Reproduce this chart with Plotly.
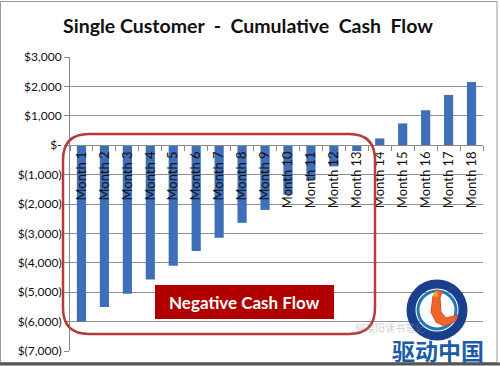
import plotly.graph_objects as go

months = ["Month 1", "Month 2", "Month 3", "Month 4", "Month 5", "Month 6",
          "Month 7", "Month 8", "Month 9", "Month 10", "Month 11", "Month 12",
          "Month 13", "Month 14", "Month 15", "Month 16", "Month 17", "Month 18"]
cash_flow = [-6000, -5500, -5050, -4570, -4100, -3600, -3150, -2640, -2200,
             -1680, -1160, -720, -200, 230, 740, 1190, 1710, 2150]
y_tickvals = [3000, 2000, 1000, 0, -1000, -2000, -3000, -4000, -5000, -6000, -7000]
y_ticktext = ["$3,000", "$2,000", "$1,000", "$-", "$(1,000)", "$(2,000)", "$(3,000)",
              "$(4,000)", "$(5,000)", "$(6,000)", "$(7,000)"]

W, H = 500, 366
L, R, T, B = 70, 483, 57, 351  # plot area in pixels


def px(x):
    return (x - L) / (R - L)


def py(y):
    return (B - y) / (B - T)


def rounded_rect(x0, y0, x1, y1, r):
    pts = [
        f"M {px(x0 + r)},{py(y0)}",
        f"L {px(x1 - r)},{py(y0)}",
        f"Q {px(x1)},{py(y0)} {px(x1)},{py(y0 + r)}",
        f"L {px(x1)},{py(y1 - r)}",
        f"Q {px(x1)},{py(y1)} {px(x1 - r)},{py(y1)}",
        f"L {px(x0 + r)},{py(y1)}",
        f"Q {px(x0)},{py(y1)} {px(x0)},{py(y1 - r)}",
        f"L {px(x0)},{py(y0 + r)}",
        f"Q {px(x0)},{py(y0)} {px(x0 + r)},{py(y0)}",
        "Z",
    ]
    return " ".join(pts)


def poly(points):
    return "M " + " L ".join(f"{px(x)},{py(y)}" for x, y in points) + " Z"


fig = go.Figure()
fig.add_trace(go.Bar(x=months, y=cash_flow, marker=dict(color="#3F6FB8", line=dict(width=0)),
                     width=0.4, hoverinfo="skip"))

shapes = []
# chart frame
shapes.append(dict(type="rect", xref="paper", yref="paper",
                   x0=px(0.5), x1=px(497), y0=py(1.5), y1=py(362.5),
                   line=dict(color="#9a9a9a", width=1), layer="below"))
shapes.append(dict(type="line", xref="paper", yref="paper",
                   x0=px(0), x1=px(500), y0=py(364), y1=py(364),
                   line=dict(color="#555555", width=3)))
# red rounded rectangle
shapes.append(dict(type="path", xref="paper", yref="paper",
                   path=rounded_rect(63, 134, 375, 334, 26),
                   line=dict(color="#B83A3A", width=2.5)))
# Negative cash flow box
shapes.append(dict(type="rect", xref="paper", yref="paper",
                   x0=px(155), x1=px(334), y0=py(285), y1=py(319),
                   fillcolor="#B00000", line=dict(color="#B00000", width=0)))
# logo ring (outer navy, inner teal)
shapes.append(dict(type="circle", xref="paper", yref="paper",
                   x0=px(411), x1=px(463), y0=py(284), y1=py(336),
                   line=dict(color="#1A3F8C", width=9), fillcolor="rgba(0,0,0,0)"))
shapes.append(dict(type="circle", xref="paper", yref="paper",
                   x0=px(418), x1=px(456), y0=py(291), y1=py(329),
                   line=dict(color="#2378B5", width=3), fillcolor="white"))
# logo bird
bird = [(433, 296), (437, 290), (442, 292), (440, 298), (441, 312), (446, 318),
        (458, 315), (454, 322), (444, 326), (436, 322), (431, 312)]
shapes.append(dict(type="path", xref="paper", yref="paper", path=poly(bird),
                   fillcolor="#F0642A", line=dict(color="#E8452A", width=1)))
shapes.append(dict(type="path", xref="paper", yref="paper",
                   path=poly([(436, 291), (433, 296), (438, 296)]),
                   fillcolor="#F5A623", line=dict(color="#F5A623", width=1)))

annotations = [
    dict(text="<b>Negative Cash Flow</b>", xref="paper", yref="paper",
         x=px(244.5), y=py(302), xanchor="center", yanchor="middle", showarrow=False,
         font=dict(family="Lato", size=17, color="white")),
    dict(text="何晓阳读书笔记", xref="paper", yref="paper", x=px(390), y=py(327),
         xanchor="center", yanchor="middle",
         showarrow=False, font=dict(family="Noto Sans CJK SC", size=10,
                                    color="rgba(150,150,150,0.45)")),
    dict(text="<b>驱动中国</b>", xref="paper", yref="paper", x=px(437.5), y=py(350),
         xanchor="center", yanchor="middle",
         showarrow=False, font=dict(family="Noto Sans CJK SC", size=23, color="#1C5BA8")),
]

fig.update_layout(
    width=W, height=H,
    margin=dict(l=L, r=W - R, t=T, b=H - B, pad=0, autoexpand=False),
    paper_bgcolor="white", plot_bgcolor="white",
    showlegend=False,
    hovermode=False,
    title=dict(text="<b>Single Customer  -  Cumulative  Cash  Flow</b>",
               x=248 / W, xanchor="center", y=1 - 26 / H, yanchor="middle",
               font=dict(family="Lato", size=19.5, color="#111111")),
    xaxis=dict(type="category", anchor="free", position=0.7, automargin=False,
               showline=True, linecolor="#8a8a8a", linewidth=1,
               ticks="outside", tickson="boundaries", ticklen=5, tickcolor="#8a8a8a",
               tickangle=-90, tickfont=dict(family="Lato", size=13, color="#111111"),
               showgrid=False, zeroline=False, range=[-0.5, 17.5]),
    yaxis=dict(range=[-7000, 3000], tickvals=y_tickvals, ticktext=y_ticktext,
               automargin=False,
               showline=True, linecolor="#8a8a8a", linewidth=1,
               ticks="outside", ticklen=5, tickcolor="#8a8a8a",
               showgrid=True, gridcolor="#8f8f8f", gridwidth=1, zeroline=False,
               tickfont=dict(family="Lato", size=12, color="#111111")),
    bargap=0.6,
    shapes=shapes,
    annotations=annotations,
)

fig.write_html("out.html", config={"displayModeBar": False, "staticPlot": True},
               post_script="document.body.style.margin='0px';document.body.style.overflow='hidden';")
